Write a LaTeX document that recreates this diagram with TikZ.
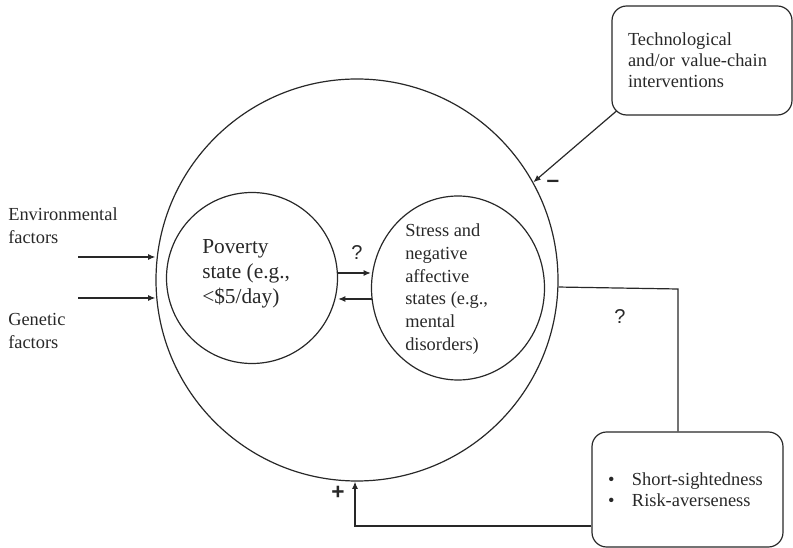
\documentclass[tikz,border=0pt]{standalone}
\usepackage{fontspec}
\setmainfont{Liberation Serif}
\newfontfamily\signfont{Liberation Sans}
\usetikzlibrary{shapes.geometric,arrows.meta}

\definecolor{ink}{RGB}{40,40,40}
\tikzset{
    lbl/.style={font=\fontsize{13.8}{17}\selectfont, align=left, inner sep=0pt, anchor=west, text=ink},
    povlbl/.style={font=\fontsize{16}{18.6}\selectfont, align=left, inner sep=0pt, anchor=west, text=ink},
    sign/.style={font=\signfont\fontsize{15}{18}\selectfont, inner sep=0pt, text=ink},
    boldsign/.style={font=\signfont\bfseries\fontsize{17}{18}\selectfont, inner sep=0pt, text=ink},
    ring/.style={draw=ink, line width=0.9pt, inner sep=0pt},
    notebox/.style={draw=ink, line width=0.9pt, rounded corners=11pt, align=left, inner xsep=12pt, inner ysep=0pt,
        font=\fontsize{13.8}{15.8}\selectfont, text=ink},
    link/.style={draw=ink, line width=0.9pt},
    arr/.style={link, -{Latex[length=5.5pt,width=4.5pt]}},
}

\begin{document}
\begin{tikzpicture}[x=0.75pt,y=0.75pt,yscale=-1,xscale=1]
    \useasboundingbox (0,0) rectangle (793,548);

    %Shape: Circle [outer]
    \node [ring, circle, minimum size=301.5pt] (body) at (357,280) {};
    %Shape: Circle [poverty]
    \node [ring, circle, minimum size=128.25pt] (pov) at (252,278) {};
    %Shape: Ellipse [stress]
    \node [ring, ellipse, minimum width=129.75pt, minimum height=138pt] (stress) at (458,288) {};

    %Shape: Rounded box [interventions]
    \node [notebox, text width=111pt, minimum height=81.75pt] (tech) at (702,60.5)
        {Technological\\and/or value-chain\\interventions};
    %Shape: Rounded box [traits]
    \node [notebox, text width=119.25pt, minimum height=86.25pt] (traits) at (687.5,489.5)
        {\makebox[18pt][l]{\textbullet}Short-sightedness\\\makebox[18pt][l]{\textbullet}Risk-averseness};

    % Text Node
    \node [lbl] (envtxt) at (8,225.5) {Environmental\\factors};
    % Text Node
    \node [lbl] (gentxt) at (8,331) {Genetic\\factors};
    % Text Node
    \node [povlbl] (povtxt) at (202,274) {Poverty\\state (e.g.,\\<\$5/day)};
    % Text Node
    \node [lbl, font=\fontsize{13.8}{17.1}\selectfont] (stresstxt) at (405,289)
        {Stress and\\negative\\affective\\states (e.g.,\\mental\\disorders)};

    % Signs
    \node [sign] (qmid) at (357,253) {?};
    \node [sign] (qright) at (620,317) {?};
    \node [boldsign] (minus) at (553,184) {\textendash};
    \node [boldsign] (plus) at (338,493) {+};

    % Arrows in from the left
    \coordinate (envin) at (78,257);
    \coordinate (genin) at (78,298);
    \draw [arr] (envin) -- (envin -| body.west);
    \draw [arr] (genin) -- (genin -| body.west);

    % Arrows between poverty and stress
    \coordinate (povout) at (338,273);
    \coordinate (stressout) at (372,299);
    \draw [arr] (povout) -- (povout -| stress.west);
    \draw [arr] (stressout) -- (stressout -| pov.east);

    % Interventions
    \coordinate (techfoot) at (616.5,111);
    \draw [arr] (techfoot) -- (body.29.4);

    % Feedback loop
    \coordinate (qturn) at (678,289);
    \coordinate (pturn) at (355,526);
    \draw [link] (body.-2.6) -- (qturn) -- (qturn |- traits.north);
    \draw [arr] (traits.west |- pturn) -- (pturn) -- (pturn |- body.south);
\end{tikzpicture}
\end{document}
